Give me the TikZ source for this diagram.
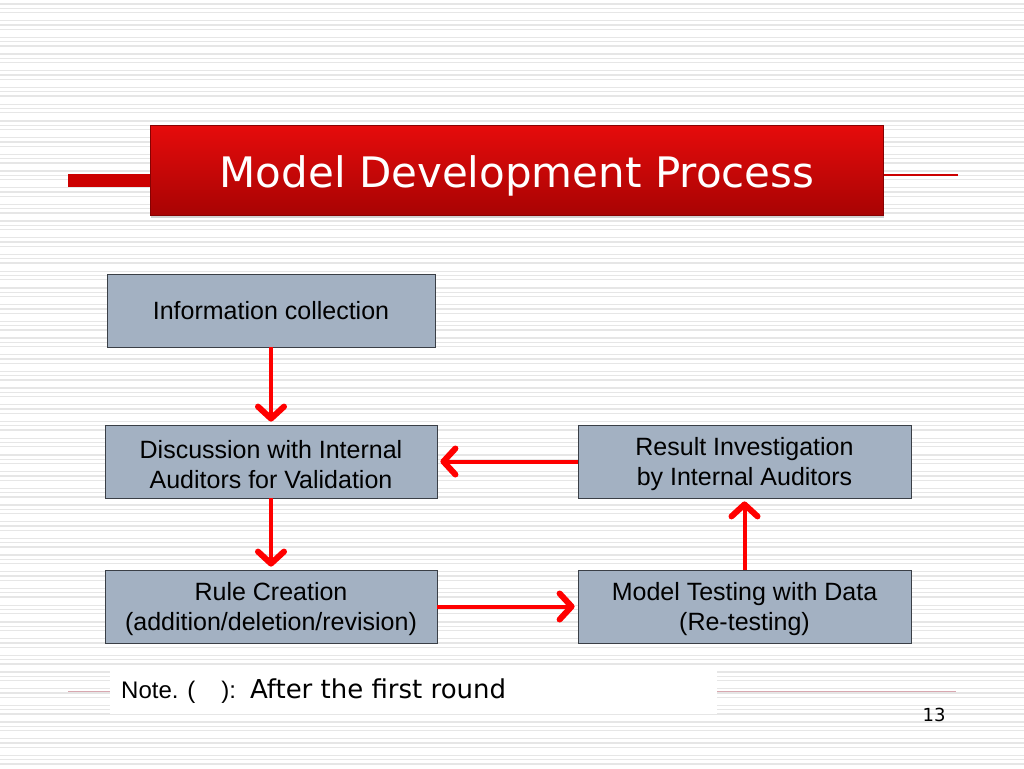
\documentclass[tikz,border=0pt]{standalone}
\usepackage{fontspec}
\setmainfont{Liberation Sans}
\newfontfamily\titlefont{DejaVu Sans}
\usetikzlibrary{arrows.meta,shadows}
\definecolor{boxfill}{HTML}{A3B1C2}
\definecolor{boxline}{HTML}{3A3F46}
\definecolor{titletop}{HTML}{E60C0C}
\definecolor{titlebot}{HTML}{A80303}
\definecolor{stripe}{HTML}{E6E6E6}
\definecolor{pinkline}{HTML}{D8A8B0}
\begin{document}
\begin{tikzpicture}[x=1pt,y=-1pt,
stepbox/.style={draw=boxline, line width=0.8pt, fill=boxfill, minimum width=332pt, minimum height=73pt, align=center, inner sep=0pt, font=\fontsize{25}{30}\selectfont},
twoline/.style={text height=54pt},
flow/.style={draw=red, line width=4pt, -{Straight Barb[length=12pt,width=26pt,round,line width'=6pt]}, shorten >=3pt},
titlebar/.style={minimum width=733pt, minimum height=90pt, inner sep=0pt, top color=titletop, bottom color=titlebot, draw=titlebot!80!black, line width=0.6pt, drop shadow={shadow xshift=1pt, shadow yshift=-3pt, opacity=0.35}},
]
    \useasboundingbox (0,0) rectangle (1024,768);
    \fill[white] (0,0) rectangle (1024,768);
    % striped background
    \foreach \k in {0,...,46} {
        \foreach \d in {0,4.3,8.6}
            \draw[stripe, line width=1.3pt] (0,{4+16.7*\k+\d}) -- (1024,{4+16.7*\k+\d});
    }
    % title bar
    \fill[red!80!black] (68,174) rectangle (152,187);
    \draw[red!80!black, line width=1.2pt] (880,175) -- (958,175);
    \node[titlebar] (title) at (516.5,170) {};
    \node[white, font=\titlefont\fontsize{42}{50}\selectfont] (titletext) at (517,176) {Model Development Process};
    % process boxes
    \node[stepbox, minimum width=328pt] (info) at (271,310.5) {Information collection};
    \node[stepbox, twoline] (discuss) at (271,461.5) {Discussion with Internal\\Auditors for Validation};
    \node[stepbox, twoline, minimum width=333pt] (result) at (744.5,461.5) {Result Investigation\\by Internal Auditors};
    \node[stepbox, twoline] (rule) at (271,606.5) {Rule Creation\\(addition/deletion/revision)};
    \node[stepbox, twoline, minimum width=333pt] (testing) at (744.5,606.5) {Model Testing with Data\\(Re-testing)};
    \draw[flow] (info) -- (discuss);
    \draw[flow] (discuss) -- (rule);
    \draw[flow] (rule) -- (testing);
    \draw[flow] (testing) -- (result);
    \draw[flow] (result) -- (discuss);
    % note and page number
    \draw[pinkline, line width=0.8pt] (68,691) -- (956,691);
    \fill[white] (110,667) rectangle (717,714);
    \node[anchor=west, inner sep=0pt] (note) at (121,691) {\fontsize{24}{28}\selectfont Note. (\hspace{26pt}):\hspace{5pt} \titlefont\fontsize{26}{30}\selectfont After the first round};
    \node[font=\titlefont\fontsize{18}{22}\selectfont] (page) at (934,715) {13};
\end{tikzpicture}
\end{document}
